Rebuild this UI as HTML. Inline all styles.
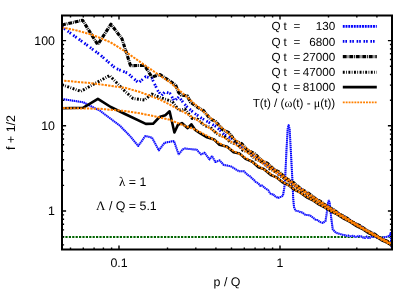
<!DOCTYPE html>
<html><head><meta charset="utf-8"><title>plot</title>
<style>html,body{margin:0;padding:0;background:#fff;}svg{display:block;}text{text-rendering:geometricPrecision;}</style></head>
<body>
<svg width="415" height="291" viewBox="0 0 415 291">
<rect width="415" height="291" fill="#fff"/>
<clipPath id="c"><rect x="62.0" y="15.5" width="330.0" height="234.0"/></clipPath>
<g clip-path="url(#c)" fill="none" stroke-linejoin="round">
<path d="M62.0,237.0 H392.0" stroke="#006400" stroke-width="2" stroke-dasharray="2.2 1.2"/>
<path d="M62.0,99.0 L63.6,99.2 L65.2,99.5 L66.8,99.7 L68.5,100.0 L70.1,100.2 L71.7,100.5 L73.3,100.7 L74.9,101.0 L76.5,101.2 L78.2,101.5 L79.8,101.7 L81.4,102.0 L83.0,102.2 L84.7,103.0 L86.4,103.9 L88.1,104.8 L89.8,105.6 L91.5,106.5 L93.2,107.3 L94.9,108.2 L96.6,109.0 L98.3,109.9 L100.0,110.7 L101.7,112.0 L103.3,113.2 L105.0,114.5 L106.7,115.7 L108.3,117.0 L110.0,118.2 L111.7,119.5 L113.3,120.8 L115.0,122.0 L116.7,123.3 L118.3,124.5 L120.0,125.8 L121.7,127.5 L123.3,129.2 L125.0,130.9 L126.7,132.6 L128.3,134.3 L130.0,136.0 L131.6,138.0 L133.3,140.0 L134.9,142.0 L136.6,144.0 L138.2,146.0 L140.0,143.5 L141.8,141.0 L143.5,138.5 L145.3,136.0 L147.0,136.4 L148.7,136.8 L150.3,137.2 L152.0,137.6 L153.7,140.8 L155.4,143.9 L157.1,147.1 L158.8,150.3 L160.8,147.8 L162.7,145.2 L164.7,142.7 L166.6,142.4 L168.4,142.0 L170.3,141.7 L172.1,141.3 L174.0,141.0 L176.3,147.8 L178.7,154.5 L180.6,152.0 L182.4,149.5 L185.0,148.5 L186.7,148.7 L188.4,148.9 L190.1,149.1 L191.8,149.2 L193.5,149.4 L195.2,149.6 L196.9,149.8 L198.9,152.1 L201.0,154.4 L202.8,153.6 L204.5,152.7 L206.2,155.0 L207.8,157.2 L209.5,159.5 L212.0,156.0 L213.7,159.0 L215.4,162.0 L217.5,161.2 L219.6,160.3 L221.7,162.7 L223.8,165.0 L225.5,165.3 L227.2,165.6 L228.9,165.9 L230.6,166.2 L232.3,167.2 L234.0,168.2 L235.6,169.3 L237.3,170.3 L239.0,171.3 L240.7,171.3 L242.3,171.3 L244.0,171.3 L246.0,173.3 L248.0,175.2 L250.0,176.3 L252.0,178.4 L254.0,180.0 L255.6,181.8 L257.2,182.7 L258.8,184.0 L260.4,185.9 L262.0,185.5 L263.6,186.8 L265.2,188.2 L266.8,189.3 L268.4,190.4 L270.0,193.4 L271.6,194.4 L273.2,194.1 L274.8,196.1 L276.4,196.9 L278.0,198.1 L279.7,197.2 L281.3,196.8 L283.0,195.5 L284.3,188.0 L285.2,178.0 L286.5,150.0 L287.7,129.0 L288.6,125.3 L289.6,129.0 L290.8,150.0 L292.3,178.0 L293.2,198.0 L294.0,207.0 L295.5,210.6 L297.2,211.0 L299.0,211.3 L300.8,212.3 L302.5,212.5 L304.2,214.1 L306.0,215.1 L307.8,215.1 L309.5,215.2 L311.2,216.2 L312.8,217.5 L314.5,218.8 L316.1,220.1 L317.8,220.1 L319.5,221.9 L321.1,222.4 L322.8,222.9 L325.5,221.0 L326.6,214.0 L328.0,203.0 L328.9,200.3 L329.9,204.0 L331.2,218.0 L332.8,229.5 L336.0,232.8 L343.4,235.0 L345.1,235.2 L346.7,235.9 L348.4,235.5 L350.0,236.4 L351.7,236.0 L353.3,235.8 L355.0,236.7 L356.7,237.1 L358.3,235.7 L360.0,236.6 L361.7,236.6 L363.3,237.7 L365.0,237.9 L366.7,236.6 L368.3,237.9 L370.0,237.7 L371.7,236.4 L373.4,236.9 L375.1,236.1 L376.9,237.8 L378.6,237.4 L380.3,237.9 L382.0,237.7 L383.9,237.2 L385.8,237.1 L387.6,236.4 L389.5,236.0 L390.6,233.0 L391.4,246.5 L392.2,238.0" stroke="#a0a0ff" stroke-width="2.0"/>
<path d="M62.0,99.0 L63.6,99.2 L65.2,99.5 L66.8,99.7 L68.5,100.0 L70.1,100.2 L71.7,100.5 L73.3,100.7 L74.9,101.0 L76.5,101.2 L78.2,101.5 L79.8,101.7 L81.4,102.0 L83.0,102.2 L84.7,103.0 L86.4,103.9 L88.1,104.8 L89.8,105.6 L91.5,106.5 L93.2,107.3 L94.9,108.2 L96.6,109.0 L98.3,109.9 L100.0,110.7 L101.7,112.0 L103.3,113.2 L105.0,114.5 L106.7,115.7 L108.3,117.0 L110.0,118.2 L111.7,119.5 L113.3,120.8 L115.0,122.0 L116.7,123.3 L118.3,124.5 L120.0,125.8 L121.7,127.5 L123.3,129.2 L125.0,130.9 L126.7,132.6 L128.3,134.3 L130.0,136.0 L131.6,138.0 L133.3,140.0 L134.9,142.0 L136.6,144.0 L138.2,146.0 L140.0,143.5 L141.8,141.0 L143.5,138.5 L145.3,136.0 L147.0,136.4 L148.7,136.8 L150.3,137.2 L152.0,137.6 L153.7,140.8 L155.4,143.9 L157.1,147.1 L158.8,150.3 L160.8,147.8 L162.7,145.2 L164.7,142.7 L166.6,142.4 L168.4,142.0 L170.3,141.7 L172.1,141.3 L174.0,141.0 L176.3,147.8 L178.7,154.5 L180.6,152.0 L182.4,149.5 L185.0,148.5 L186.7,148.7 L188.4,148.9 L190.1,149.1 L191.8,149.2 L193.5,149.4 L195.2,149.6 L196.9,149.8 L198.9,152.1 L201.0,154.4 L202.8,153.6 L204.5,152.7 L206.2,155.0 L207.8,157.2 L209.5,159.5 L212.0,156.0 L213.7,159.0 L215.4,162.0 L217.5,161.2 L219.6,160.3 L221.7,162.7 L223.8,165.0 L225.5,165.3 L227.2,165.6 L228.9,165.9 L230.6,166.2 L232.3,167.2 L234.0,168.2 L235.6,169.3 L237.3,170.3 L239.0,171.3 L240.7,171.3 L242.3,171.3 L244.0,171.3 L246.0,173.3 L248.0,175.2 L250.0,176.3 L252.0,178.4 L254.0,180.0 L255.6,181.8 L257.2,182.7 L258.8,184.0 L260.4,185.9 L262.0,185.5 L263.6,186.8 L265.2,188.2 L266.8,189.3 L268.4,190.4 L270.0,193.4 L271.6,194.4 L273.2,194.1 L274.8,196.1 L276.4,196.9 L278.0,198.1 L279.7,197.2 L281.3,196.8 L283.0,195.5 L284.3,188.0 L285.2,178.0 L286.5,150.0 L287.7,129.0 L288.6,125.3 L289.6,129.0 L290.8,150.0 L292.3,178.0 L293.2,198.0 L294.0,207.0 L295.5,210.6 L297.2,211.0 L299.0,211.3 L300.8,212.3 L302.5,212.5 L304.2,214.1 L306.0,215.1 L307.8,215.1 L309.5,215.2 L311.2,216.2 L312.8,217.5 L314.5,218.8 L316.1,220.1 L317.8,220.1 L319.5,221.9 L321.1,222.4 L322.8,222.9 L325.5,221.0 L326.6,214.0 L328.0,203.0 L328.9,200.3 L329.9,204.0 L331.2,218.0 L332.8,229.5 L336.0,232.8 L343.4,235.0 L345.1,235.2 L346.7,235.9 L348.4,235.5 L350.0,236.4 L351.7,236.0 L353.3,235.8 L355.0,236.7 L356.7,237.1 L358.3,235.7 L360.0,236.6 L361.7,236.6 L363.3,237.7 L365.0,237.9 L366.7,236.6 L368.3,237.9 L370.0,237.7 L371.7,236.4 L373.4,236.9 L375.1,236.1 L376.9,237.8 L378.6,237.4 L380.3,237.9 L382.0,237.7 L383.9,237.2 L385.8,237.1 L387.6,236.4 L389.5,236.0 L390.6,233.0 L391.4,246.5 L392.2,238.0" stroke="#0000ff" stroke-width="2.0" stroke-dasharray="1.1 0.9"/>
<path d="M62.0,27.0 L80.0,40.0 L100.0,54.7 L115.5,68.3 L127.8,73.2 L133.0,78.0 L138.6,82.8 L145.6,76.7 L151.8,78.2 L154.8,84.5 L158.0,91.0 L161.5,95.5 L165.0,91.8 L170.0,93.5 L174.3,101.0 L179.0,96.8 L183.0,102.3 L186.9,106.8 L194.0,113.0 L201.3,118.0 L208.0,122.0 L216.2,126.5 L224.6,135.0 L232.9,139.1 L239.1,145.8 L247.0,149.7 L254.1,156.3 L260.6,159.9 L266.4,165.3 L272.8,168.6 L278.6,174.0 L286.1,178.2 L294.2,185.1 L301.4,189.5 L309.1,194.9 L315.6,198.6 L322.6,203.7 L330.9,208.4 L337.4,213.0 L345.4,217.5 L353.2,222.6 L359.4,225.8 L367.3,230.8 L375.1,234.8 L382.9,239.8 L388.5,242.2 L392.0,244.3" stroke="#0000f0" stroke-width="2.8" stroke-dasharray="1.6 1.0 1.6 2.7"/>
<path d="M62.0,25.0 L82.6,20.2 L97.7,44.6 L111.0,24.2 L122.0,38.9 L130.5,65.6 L144.6,65.5 L151.8,77.0 L160.0,74.6 L175.5,84.8 L178.5,92.3 L181.0,95.0 L187.3,95.9 L190.4,102.0 L197.0,107.0 L203.6,110.7 L210.4,119.0 L215.8,121.6 L223.1,130.0 L228.9,132.6 L235.4,141.1 L241.8,143.7 L247.4,150.2 L254.9,153.8 L262.0,160.9 L267.3,163.1 L274.1,169.6 L279.4,172.1 L285.8,178.2 L293.3,182.5 L300.9,188.9 L308.2,193.1 L315.8,198.9 L321.2,201.9 L327.0,206.2 L333.3,209.5 L339.3,214.0 L345.5,217.1 L352.2,221.8 L359.8,225.6 L367.4,230.7 L375.2,234.5 L380.8,238.4 L388.5,241.8 L392.0,244.0" stroke="#000" stroke-width="3.1" stroke-dasharray="3.9 0.9 0.8 0.9"/>
<path d="M62.0,84.7 L80.8,91.3 L109.6,75.5 L125.0,91.3 L133.0,98.5 L144.6,100.0 L151.8,94.0 L160.0,97.5 L172.4,101.6 L179.0,110.5 L184.8,108.9 L192.0,118.3 L197.7,119.1 L204.4,125.7 L209.8,126.9 L217.6,134.4 L224.9,137.0 L230.5,142.3 L237.7,144.7 L243.0,150.4 L248.3,152.1 L254.3,158.5 L262.1,162.2 L269.9,169.0 L275.3,171.6 L280.6,176.3 L286.8,179.8 L292.4,184.5 L299.9,189.1 L307.6,194.7 L313.8,198.0 L320.3,202.8 L327.1,206.4 L333.9,211.3 L340.4,214.8 L347.5,219.5 L353.5,222.5 L360.0,227.1 L365.2,229.5 L371.9,233.8 L378.7,237.2 L384.1,240.7 L390.5,243.6 L392.0,244.7" stroke="#000" stroke-width="2.9" stroke-dasharray="1.9 1.4 0.8 1.5"/>
<path d="M62.0,108.3 L83.0,107.8 L97.9,98.8 L110.8,107.0 L125.0,114.0 L145.8,123.9 L153.0,123.8 L159.5,117.0 L165.3,115.2 L169.6,111.3 L174.4,132.5 L177.9,124.9 L181.9,123.1 L187.7,128.2 L191.3,124.3 L194.9,129.6 L200.0,133.2 L207.0,137.3 L214.1,139.5 L219.5,144.7 L227.2,146.8 L233.6,152.3 L239.6,153.6 L245.6,158.9 L252.4,161.7 L258.5,167.3 L263.8,169.0 L270.9,175.0 L276.7,177.4 L282.5,182.3 L288.9,185.3 L294.3,189.7 L300.4,192.7 L306.7,197.3 L312.4,200.0 L319.3,204.7 L325.6,207.8 L331.1,211.5 L336.8,214.1 L344.2,218.9 L350.1,221.8 L357.0,226.4 L363.1,229.3 L369.1,233.3 L375.0,236.0 L381.3,240.0 L387.5,242.8 L392.0,245.6" stroke="#000" stroke-width="2.6"/>
<path d="M62.0,27.5 L75.0,30.0 L92.0,34.7 L110.0,42.0 L125.0,51.3 L145.6,65.8 L170.8,83.0 L186.9,97.0 L195.6,104.8 L216.4,123.0 L225.8,131.4 L234.8,139.3 L243.0,145.8 L251.5,152.2 L260.0,158.5 L275.4,170.0 L283.7,176.0 L300.0,188.0 L320.0,201.3 L340.0,214.1 L360.0,226.1 L380.0,237.6 L392.0,244.0" stroke="#ff8000" stroke-width="2.0" stroke-dasharray="2.3 1.1" stroke-dashoffset="0"/>
<path d="M62.0,80.6 L90.0,83.0 L125.0,87.8 L140.0,92.0 L161.0,100.0 L183.4,111.8 L201.0,122.4 L219.0,134.5 L231.0,141.7 L243.2,149.5 L260.0,161.5 L280.0,175.5 L300.0,189.5 L320.0,202.3 L340.0,214.8 L360.0,226.8 L380.0,238.2 L392.0,244.7" stroke="#ff8000" stroke-width="2.0" stroke-dasharray="2.3 1.1" stroke-dashoffset="1.2"/>
<path d="M62.0,108.0 L100.0,108.8 L125.0,111.0 L140.0,113.3 L158.0,117.0 L168.9,119.5 L183.4,125.3 L195.0,129.5 L207.0,135.7 L219.0,142.9 L231.0,149.5 L242.0,155.5 L260.0,167.0 L280.0,180.0 L300.0,192.6 L320.0,204.5 L340.0,216.0 L360.0,227.5 L380.0,238.8 L392.0,245.3" stroke="#ff8000" stroke-width="2.0" stroke-dasharray="2.3 1.1" stroke-dashoffset="2.3"/>
</g>
<rect x="62.0" y="15.5" width="330.0" height="234.0" fill="none" stroke="#000" stroke-width="2"/>
<g stroke="#000" stroke-width="1.4" fill="none"><path d="M70.5,249.5 v-2.1 M70.5,15.5 v2.1"/><path d="M83.3,249.5 v-2.1 M83.3,15.5 v2.1"/><path d="M94.1,249.5 v-2.1 M94.1,15.5 v2.1"/><path d="M103.4,249.5 v-2.1 M103.4,15.5 v2.1"/><path d="M111.6,249.5 v-2.1 M111.6,15.5 v2.1"/><path d="M119.0,249.5 v-4.1 M119.0,15.5 v4.1"/><path d="M167.5,249.5 v-2.1 M167.5,15.5 v2.1"/><path d="M195.8,249.5 v-2.1 M195.8,15.5 v2.1"/><path d="M215.9,249.5 v-2.1 M215.9,15.5 v2.1"/><path d="M231.5,249.5 v-2.1 M231.5,15.5 v2.1"/><path d="M244.3,249.5 v-2.1 M244.3,15.5 v2.1"/><path d="M255.1,249.5 v-2.1 M255.1,15.5 v2.1"/><path d="M264.4,249.5 v-2.1 M264.4,15.5 v2.1"/><path d="M272.6,249.5 v-2.1 M272.6,15.5 v2.1"/><path d="M280.0,249.5 v-4.1 M280.0,15.5 v4.1"/><path d="M328.5,249.5 v-2.1 M328.5,15.5 v2.1"/><path d="M356.8,249.5 v-2.1 M356.8,15.5 v2.1"/><path d="M376.9,249.5 v-2.1 M376.9,15.5 v2.1"/><path d="M62.0,244.9 h2.1 M392.0,244.9 h-2.1"/><path d="M62.0,236.6 h2.1 M392.0,236.6 h-2.1"/><path d="M62.0,229.9 h2.1 M392.0,229.9 h-2.1"/><path d="M62.0,224.2 h2.1 M392.0,224.2 h-2.1"/><path d="M62.0,219.3 h2.1 M392.0,219.3 h-2.1"/><path d="M62.0,214.9 h2.1 M392.0,214.9 h-2.1"/><path d="M62.0,211.0 h4.1 M392.0,211.0 h-4.1"/><path d="M62.0,185.4 h2.1 M392.0,185.4 h-2.1"/><path d="M62.0,170.3 h2.1 M392.0,170.3 h-2.1"/><path d="M62.0,159.7 h2.1 M392.0,159.7 h-2.1"/><path d="M62.0,151.4 h2.1 M392.0,151.4 h-2.1"/><path d="M62.0,144.7 h2.1 M392.0,144.7 h-2.1"/><path d="M62.0,139.0 h2.1 M392.0,139.0 h-2.1"/><path d="M62.0,134.1 h2.1 M392.0,134.1 h-2.1"/><path d="M62.0,129.7 h2.1 M392.0,129.7 h-2.1"/><path d="M62.0,125.8 h4.1 M392.0,125.8 h-4.1"/><path d="M62.0,100.2 h2.1 M392.0,100.2 h-2.1"/><path d="M62.0,85.1 h2.1 M392.0,85.1 h-2.1"/><path d="M62.0,74.5 h2.1 M392.0,74.5 h-2.1"/><path d="M62.0,66.2 h2.1 M392.0,66.2 h-2.1"/><path d="M62.0,59.5 h2.1 M392.0,59.5 h-2.1"/><path d="M62.0,53.8 h2.1 M392.0,53.8 h-2.1"/><path d="M62.0,48.9 h2.1 M392.0,48.9 h-2.1"/><path d="M62.0,44.5 h2.1 M392.0,44.5 h-2.1"/><path d="M62.0,40.6 h4.1 M392.0,40.6 h-4.1"/></g>
<g font-family="Liberation Sans, sans-serif" font-size="11.7" fill="#000" style="filter:grayscale(1)">
<text x="271.5" y="30.2">Q</text><text x="283.5" y="30.2">t</text><text x="293.5" y="30.2">=</text><text x="335.2" y="30.2" text-anchor="end">130</text>
<text x="271.5" y="45.6">Q</text><text x="283.5" y="45.6">t</text><text x="293.5" y="45.6">=</text><text x="335.2" y="45.6" text-anchor="end">6800</text>
<text x="271.5" y="60.5">Q</text><text x="283.5" y="60.5">t</text><text x="293.5" y="60.5">=</text><text x="335.2" y="60.5" text-anchor="end">27000</text>
<text x="271.5" y="75.7">Q</text><text x="283.5" y="75.7">t</text><text x="293.5" y="75.7">=</text><text x="335.2" y="75.7" text-anchor="end">47000</text>
<text x="271.5" y="90.7">Q</text><text x="283.5" y="90.7">t</text><text x="293.5" y="90.7">=</text><text x="335.2" y="90.7" text-anchor="end">81000</text>
<text x="335.2" y="106.8" text-anchor="end">T(t) / (<tspan font-family="Liberation Serif, serif" font-size="12">ω</tspan>(t) - <tspan font-family="Liberation Serif, serif" font-size="12">μ</tspan>(t))</text>
</g>
<g fill="none">
<path d="M342.8,26.3 H376.8" stroke="#0000ff" stroke-width="2.8" stroke-dasharray="1.9 0.85"/>
<path d="M342.8,41.4 H374.8" stroke="#0000f0" stroke-width="2.8" stroke-dasharray="1.6 1.0 1.6 2.7"/>
<path d="M342.8,56.6 H376.8" stroke="#000" stroke-width="3.1" stroke-dasharray="3.9 0.9 0.8 0.9"/>
<path d="M342.8,72.3 H376.8" stroke="#000" stroke-width="2.9" stroke-dasharray="1.9 1.4 0.8 1.5"/>
<path d="M342.8,87.1 H376.8" stroke="#000" stroke-width="2.8"/>
<path d="M342.8,102.4 H376.8" stroke="#ff8000" stroke-width="1.9" stroke-dasharray="1.9 1.0"/>
</g>
<g font-family="Liberation Sans, sans-serif" font-size="12.4" fill="#000" style="filter:grayscale(1)">
<text x="55" y="44.9" text-anchor="end">100</text>
<text x="55" y="130.1" text-anchor="end">10</text>
<text x="55" y="215.3" text-anchor="end">1</text>
<text x="119.0" y="267.2" text-anchor="middle">0.1</text>
<text x="280.0" y="267.2" text-anchor="middle">1</text>
<text x="227" y="286" text-anchor="middle">p / Q</text>
<text transform="translate(15.3,132.5) rotate(-90)" text-anchor="middle">f + 1/2</text>
<text x="119" y="186.3"><tspan font-family="Liberation Serif, serif" font-size="13">λ</tspan> = 1</text>
<text x="96" y="209.7"><tspan font-family="Liberation Serif, serif" font-size="13">Λ</tspan> / Q = 5.1</text>
</g>
</svg>
</body></html>
